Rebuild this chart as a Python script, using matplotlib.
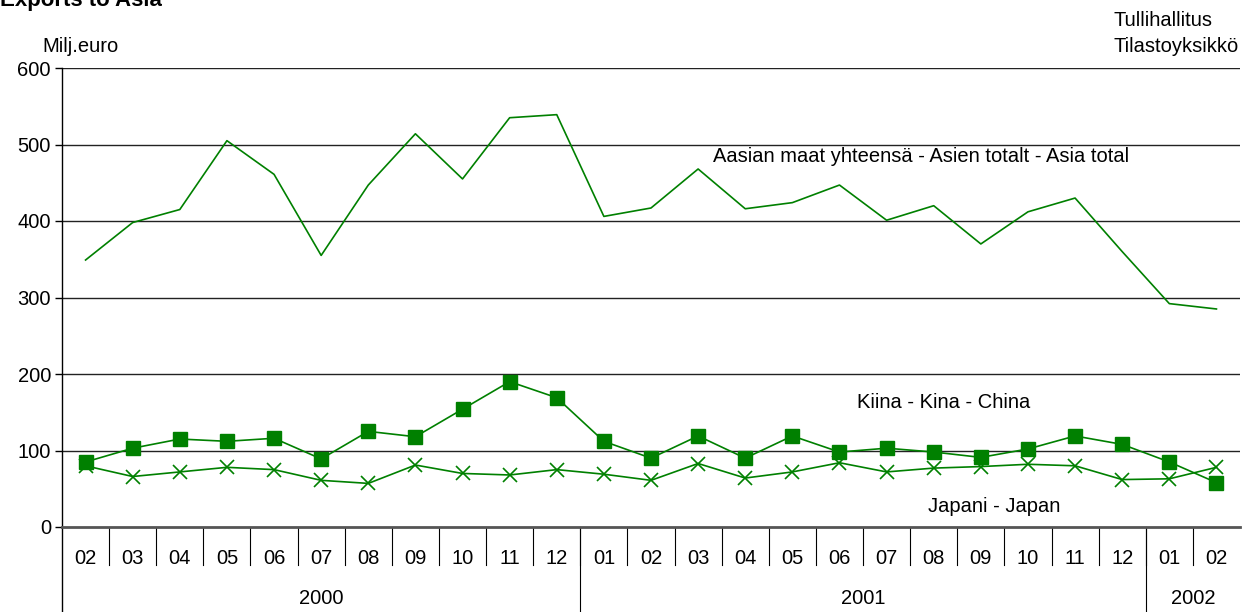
import matplotlib
matplotlib.use('Agg')
import numpy as np
import matplotlib.pyplot as plt

plt.rcParams['font.family'] = ['Liberation Sans', 'DejaVu Sans']

months = ['02', '03', '04', '05', '06', '07', '08', '09', '10', '11', '12',
          '01', '02', '03', '04', '05', '06', '07', '08', '09', '10', '11', '12',
          '01', '02']
years = ['2000', '2001', '2002']
year_counts = [11, 12, 2]

asia_total = [349, 398, 415, 505, 461, 355, 447, 514, 455, 535, 539,
              406, 417, 468, 416, 424, 447, 401, 420, 370, 412, 430, 360,
              292, 285]
china = [85, 103, 115, 112, 116, 89, 125, 118, 154, 190, 169,
         112, 90, 119, 90, 119, 98, 103, 98, 91, 102, 119, 108,
         85, 58]
japan = [80, 66, 72, 78, 75, 61, 57, 81, 70, 68, 75,
         69, 61, 83, 64, 72, 84, 72, 77, 79, 82, 80, 62,
         63, 78]

GREEN = '#008000'
FS = 14.5

fig = plt.figure(figsize=(12.47, 6.12), dpi=100)
ax = fig.add_axes([62/1247, 1-527/612, (1240-62)/1247, (527-68)/612])

x = np.arange(len(months))
ax.plot(x, asia_total, color=GREEN, lw=1.2, zorder=3)
ax.plot(x, china, color=GREEN, lw=1.2, marker='s', markersize=10, zorder=3)
ax.plot(x, japan, color=GREEN, lw=1.2, marker='x', markersize=9.5, markeredgewidth=1.2, zorder=3)

ax.set_xlim(-0.5, len(months)-0.5)
ax.set_ylim(0, 600)
ax.set_yticks(range(0, 601, 100))
ax.tick_params(axis='y', direction='out', length=5, width=1, labelsize=FS, pad=3)
ax.set_xticks([])
for v in range(100, 601, 100):
    ax.axhline(v, color='#222222', lw=1, zorder=1)

for s in ['top', 'right']:
    ax.spines[s].set_visible(False)
ax.spines['left'].set_color('black')
ax.spines['left'].set_linewidth(1)
ax.spines['bottom'].set_color('#555555')
ax.spines['bottom'].set_linewidth(2)

# category labels below the axis
tr = ax.get_xaxis_transform()
for i, m in enumerate(months):
    ax.text(i, -0.068, m, transform=tr, ha='center', va='center', fontsize=FS)
for i in range(1, len(months)):
    ax.plot([i-0.5, i-0.5], [0, -0.083], transform=tr, color='black', lw=0.8, clip_on=False)
start = 0
for y, n in zip(years, year_counts):
    ax.text(start + n/2 - 0.5, -0.155, y, transform=tr, ha='center', va='center', fontsize=FS)
    start += n
    if start < len(months):
        ax.plot([start-0.5, start-0.5], [0, -0.185], transform=tr, color='black', lw=0.8, clip_on=False)
ax.plot([-0.5, -0.5], [0, -0.185], transform=tr, color='black', lw=1, clip_on=False)

# series labels
ax.text(13.32, 484, 'Aasian maat yhteensä - Asien totalt - Asia total', ha='left', va='center', fontsize=FS)
ax.text(16.38, 163, 'Kiina - Kina - China', ha='left', va='center', fontsize=FS)
ax.text(17.87, 27, 'Japani - Japan', ha='left', va='center', fontsize=FS)

fig.text(42/1247, 1-47/612, 'Milj.euro', ha='left', va='center', fontsize=FS)
fig.text(1113/1247, 1-20/612, 'Tullihallitus', ha='left', va='center', fontsize=FS)
fig.text(1113/1247, 1-47/612, 'Tilastoyksikkö', ha='left', va='center', fontsize=FS)
fig.text(0.0, 1-6/612, 'Exports to Asia', ha='left', va='baseline', fontsize=16, fontweight='bold')

fig.savefig('out.png', dpi=100)
